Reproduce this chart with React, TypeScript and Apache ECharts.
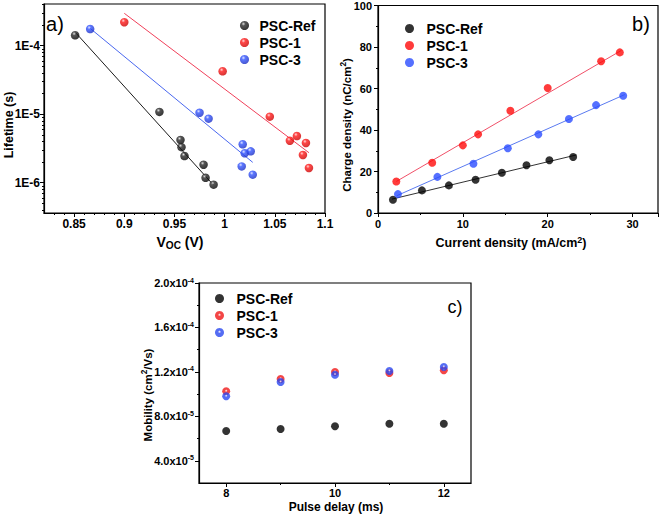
import React, { useEffect, useRef } from 'react';
import * as echarts from 'echarts';

const FONT = "'Liberation Sans', Arial, Helvetica, sans-serif";

// ---------- Panel a: lifetime vs Voc ----------
const aRefVoc = [0.851, 0.935, 0.956, 0.957, 0.96, 0.979, 0.981, 0.989];
const aRefTau = [1.42e-4, 1.08e-5, 4.2e-6, 3.3e-6, 2.45e-6, 1.83e-6, 1.18e-6, 9.35e-7];
const a1Voc = [0.9, 0.998, 1.045, 1.065, 1.072, 1.081, 1.078, 1.084];
const a1Tau = [2.2e-4, 4.23e-5, 9.2e-6, 4.1e-6, 4.8e-6, 3.8e-6, 2.54e-6, 1.64e-6];
const a3Voc = [0.866, 0.975, 0.984, 1.018, 1.02, 1.026, 1.017, 1.028];
const a3Tau = [1.75e-4, 1.05e-5, 8.6e-6, 3.64e-6, 2.69e-6, 2.87e-6, 1.73e-6, 1.31e-6];
const aRefFitVoc = [0.852, 0.989];
const aRefFitTau = [1.52e-4, 9.2e-7];
const a1FitVoc = [0.9, 1.084];
const a1FitTau = [2.97e-4, 2.74e-6];
const a3FitVoc = [0.866, 1.028];
const a3FitTau = [1.79e-4, 1.98e-6];
const aXTicks = [0.85, 0.9, 0.95, 1, 1.05, 1.1];

// ---------- Panel b: charge density vs current density ----------
const bRefJ = [1.76, 5.18, 8.35, 11.5, 14.6, 17.5, 20.2, 23.0];
const bRefQ = [6.4, 10.9, 13.3, 16.0, 19.4, 23.0, 25.4, 27.0];
const b1J = [2.16, 6.39, 10.0, 11.8, 15.6, 20.0, 26.3, 28.5];
const b1Q = [15.2, 24.2, 32.6, 37.9, 49.3, 60.2, 73.1, 77.4];
const b3J = [2.35, 7.0, 11.25, 15.3, 18.9, 22.5, 25.7, 28.9];
const b3Q = [9.1, 17.4, 23.7, 31.2, 37.9, 45.3, 52.0, 56.5];
const bRefFitJ = [1.65, 23.4];
const bRefFitQ = [6.7, 28.0];
const b1FitJ = [2.16, 28.7];
const b1FitQ = [15.2, 78.4];
const b3FitJ = [2.2, 29.1];
const b3FitQ = [8.3, 57.1];

// ---------- Panel c: mobility vs pulse delay ----------
const cDelay = [8, 9, 10, 11, 12];
const cRef = [6.68e-5, 6.86e-5, 7.1e-5, 7.34e-5, 7.34e-5];
const c1 = [1.025e-4, 1.136e-4, 1.199e-4, 1.19e-4, 1.214e-4];
const c3 = [9.8e-5, 1.109e-4, 1.175e-4, 1.208e-4, 1.244e-4];
const cXLabels = [8, 10, 12];
const cXMinor = [9, 11];
const cYLabels = [4e-5, 8e-5, 1.2e-4, 1.6e-4, 2e-4];
const cYMinor = [6e-5, 1.0e-4, 1.4e-4, 1.8e-4];

const NAMES = ['PSC-Ref', 'PSC-1', 'PSC-3'];

const zip = (xs: number[], ys: number[]) => xs.map((x, i) => [x, ys[i]]);

const aXMinor: number[] = [];
for (let i = 83; i <= 109; i++) if (i % 5 !== 0) aXMinor.push(i / 100);
const aYMinor: number[] = [];
for (let d = -7; d <= -4; d++) for (let k = 2; k <= 9; k++) {
  const v = k * Math.pow(10, d);
  if (v > 3.61e-7 && v < 4.06e-4) aYMinor.push(v);
}

const sphere = (light: string, base: string, dark: string) => ({
  type: 'radial', x: 0.38, y: 0.32, r: 0.72,
  colorStops: [
    { offset: 0, color: light },
    { offset: 0.3, color: base },
    { offset: 1, color: dark },
  ],
});
const gloss = (base: string) => ({
  type: 'radial', x: 0.5, y: 0.42, r: 0.6,
  colorStops: [
    { offset: 0, color: '#ffffff' },
    { offset: 0.3, color: base },
    { offset: 1, color: base },
  ],
});

const aColors = [
  sphere('#d8d8d8', '#2a2a2a', '#000000'),
  sphere('#ffd0d0', '#ff1a1a', '#c80000'),
  sphere('#d8dcff', '#3355ff', '#1a2cc0'),
];
const bColors = ['#000000', '#ff0a0a', '#2a4cff'];
const cColors = ['#000000', gloss('#f01818'), gloss('#2a48f0')];
const aLine = ['#1a1a1a', '#f0405a', '#4a68f0'];
const bLine = ['#333333', '#f05068', '#5a7af0'];

const axisLine = { show: true, lineStyle: { color: '#000', width: 1.2 } };
const tickStyle = { lineStyle: { color: '#000', width: 1 } };
const labelBase = { color: '#000', fontFamily: FONT, fontWeight: 'bold' as const };

const legendFor = (left: number, top: number, itemWidth: number, colors: any[]) => ({
  orient: 'vertical',
  left, top,
  itemWidth, itemHeight: 9,
  itemGap: 2,
  selectedMode: false,
  textStyle: { fontFamily: FONT, fontSize: 14, fontWeight: 'bold', color: '#000', lineHeight: 15 },
  data: NAMES.map((n, i) => ({ name: n, icon: 'circle', itemStyle: { color: colors[i], borderWidth: 0 } })),
});

const titleText = (text: string, x: number, y: number, fontSize: number, rotate = false, rich?: any, weight = 'bold') => ({
  type: 'text',
  x, y,
  rotation: rotate ? Math.PI / 2 : 0,
  silent: true,
  style: {
    text,
    fontFamily: FONT,
    fontSize,
    fontWeight: weight,
    fill: '#000',
    align: 'center',
    verticalAlign: 'middle',
    textAlign: 'center',
    textVerticalAlign: 'middle',
    rich,
  },
});

const subRich = (size: number) => ({
  b: { fontFamily: FONT, fontSize: size, fontWeight: 'bold', fill: '#000', color: '#000' },
  sub: { fontFamily: FONT, fontSize: size * 0.72, fontWeight: 'bold', color: '#000', padding: [size * 0.5, 0, 0, 0] },
  sup: { fontFamily: FONT, fontSize: size * 0.72, fontWeight: 'bold', color: '#000', padding: [0, 0, size * 0.55, 0] },
});

const option: any = {
  animation: false,
  backgroundColor: '#ffffff',
  textStyle: { fontFamily: FONT },
  grid: [
    { left: 44, top: 4, width: 281, height: 209, show: true, borderColor: '#000', borderWidth: 1.2, backgroundColor: 'transparent' },
    { left: 378, top: 5, width: 280, height: 208, show: true, borderColor: '#000', borderWidth: 1.2, backgroundColor: 'transparent' },
    { left: 199, top: 283, width: 272, height: 200, show: true, borderColor: '#000', borderWidth: 1.2, backgroundColor: 'transparent' },
  ],
  xAxis: [
    {
      type: 'value', gridIndex: 0, min: 0.82, max: 1.1, position: 'bottom',
      axisLine,
      axisTick: { ...tickStyle, length: 4, customValues: aXTicks },
      axisLabel: { ...labelBase, fontSize: 12, margin: 5, customValues: aXTicks },
      splitLine: { show: false },
    },
    {
      type: 'value', gridIndex: 0, min: 0.82, max: 1.1, position: 'bottom',
      axisLine: { show: false },
      axisTick: { ...tickStyle, length: 2, customValues: aXMinor },
      axisLabel: { show: false },
      splitLine: { show: false },
    },
    {
      type: 'value', gridIndex: 1, min: 0, max: 33, interval: 10, position: 'bottom',
      axisLine,
      axisTick: { ...tickStyle, length: 4 },
      minorTick: { show: true, splitNumber: 2, length: 2, lineStyle: { color: '#000' } },
      axisLabel: { ...labelBase, fontSize: 11, margin: 5, showMaxLabel: false },
      splitLine: { show: false },
      minorSplitLine: { show: false },
    },
    {
      type: 'value', gridIndex: 2, min: 7.5, max: 12.5, position: 'bottom',
      axisLine,
      axisTick: { ...tickStyle, length: 4, customValues: cXLabels },
      axisLabel: { ...labelBase, fontSize: 11, margin: 4, customValues: cXLabels },
      splitLine: { show: false },
    },
    {
      type: 'value', gridIndex: 2, min: 7.5, max: 12.5, position: 'bottom',
      axisLine: { show: false },
      axisTick: { ...tickStyle, length: 2, customValues: cXMinor },
      axisLabel: { show: false },
      splitLine: { show: false },
    },
  ],
  yAxis: [
    {
      type: 'log', logBase: 10, gridIndex: 0, min: 3.61e-7, max: 4.06e-4, position: 'left',
      axisLine,
      axisTick: { ...tickStyle, length: 4 },
      axisLabel: {
        ...labelBase, fontSize: 12, margin: 4, showMinLabel: false, showMaxLabel: false,
        formatter: (v: number) => '1E' + Math.round(Math.log10(v)),
      },
      splitLine: { show: false },
    },
    {
      type: 'log', logBase: 10, gridIndex: 0, min: 3.61e-7, max: 4.06e-4, position: 'left',
      axisLine: { show: false },
      axisTick: { ...tickStyle, length: 2, customValues: aYMinor },
      axisLabel: { show: false },
      splitLine: { show: false },
    },
    {
      type: 'value', gridIndex: 1, min: 0, max: 100, interval: 20, position: 'left',
      axisLine,
      axisTick: { ...tickStyle, length: 4 },
      minorTick: { show: true, splitNumber: 2, length: 2, lineStyle: { color: '#000' } },
      axisLabel: { ...labelBase, fontSize: 11, margin: 6 },
      splitLine: { show: false },
      minorSplitLine: { show: false },
    },
    {
      type: 'value', gridIndex: 2, min: 2e-5, max: 2e-4, position: 'left',
      axisLine,
      axisTick: { ...tickStyle, length: 4, customValues: cYLabels },
      axisLabel: {
        ...labelBase, fontSize: 11, margin: 5, customValues: cYLabels,
        formatter: (v: number) => {
          const e = Math.floor(Math.log10(v) + 1e-9);
          const m = v / Math.pow(10, e);
          return m.toFixed(1) + 'x10{sup|' + e + '}';
        },
        rich: {
          sup: { fontFamily: FONT, fontWeight: 'bold', fontSize: 7, color: '#000', padding: [0, 0, 6, 0] },
        },
      },
      splitLine: { show: false },
    },
    {
      type: 'value', gridIndex: 2, min: 2e-5, max: 2e-4, position: 'left',
      axisLine: { show: false },
      axisTick: { ...tickStyle, length: 2, customValues: cYMinor },
      axisLabel: { show: false },
      splitLine: { show: false },
    },
  ],
  legend: [
    legendFor(235, 13, 20, aColors),
    legendFor(400, 16, 24, bColors),
    legendFor(210, 286, 24, cColors),
  ],
  graphic: [
    titleText('Lifetime (s)', 9, 125, 12.5, true),
    titleText('{b|V}{sub|OC}{b| (V)}', 180, 242, 14, false, subRich(14)),
    titleText('{b|Charge density (nC/cm}{sup|2}{b|)}', 347, 125, 11.5, true, subRich(11.5)),
    titleText('{b|Current density (mA/cm}{sup|2}{b|)}', 511, 243, 12.5, false, subRich(12.5)),
    titleText('{b|Mobility (cm}{sup|2}{b|/Vs)}', 148, 395, 11.5, true, subRich(11.5)),
    titleText('Pulse delay (ms)', 336, 506.5, 12),
    titleText('a)', 55, 23.5, 20, false, undefined, 'normal'),
    titleText('b)', 641, 23.5, 20, false, undefined, 'normal'),
    titleText('c)', 455, 307, 18, false, undefined, 'normal'),
  ],
  series: [
    // panel a fits
    { type: 'line', name: 'fitA0', xAxisIndex: 0, yAxisIndex: 0, data: zip(aRefFitVoc, aRefFitTau), symbol: 'none', lineStyle: { color: aLine[0], width: 1 }, z: 1, silent: true },
    { type: 'line', name: 'fitA1', xAxisIndex: 0, yAxisIndex: 0, data: zip(a1FitVoc, a1FitTau), symbol: 'none', lineStyle: { color: aLine[1], width: 1 }, z: 1, silent: true },
    { type: 'line', name: 'fitA3', xAxisIndex: 0, yAxisIndex: 0, data: zip(a3FitVoc, a3FitTau), symbol: 'none', lineStyle: { color: aLine[2], width: 1 }, z: 1, silent: true },
    // panel a points
    { type: 'scatter', name: NAMES[0], xAxisIndex: 0, yAxisIndex: 0, data: zip(aRefVoc, aRefTau), symbolSize: 8.5, itemStyle: { color: aColors[0] }, z: 3 },
    { type: 'scatter', name: NAMES[1], xAxisIndex: 0, yAxisIndex: 0, data: zip(a1Voc, a1Tau), symbolSize: 8.5, itemStyle: { color: aColors[1] }, z: 3 },
    { type: 'scatter', name: NAMES[2], xAxisIndex: 0, yAxisIndex: 0, data: zip(a3Voc, a3Tau), symbolSize: 8.5, itemStyle: { color: aColors[2] }, z: 3 },
    // panel b fits
    { type: 'line', name: 'fitB0', xAxisIndex: 2, yAxisIndex: 2, data: zip(bRefFitJ, bRefFitQ), symbol: 'none', lineStyle: { color: bLine[0], width: 1 }, z: 1, silent: true },
    { type: 'line', name: 'fitB1', xAxisIndex: 2, yAxisIndex: 2, data: zip(b1FitJ, b1FitQ), symbol: 'none', lineStyle: { color: bLine[1], width: 1 }, z: 1, silent: true },
    { type: 'line', name: 'fitB3', xAxisIndex: 2, yAxisIndex: 2, data: zip(b3FitJ, b3FitQ), symbol: 'none', lineStyle: { color: bLine[2], width: 1 }, z: 1, silent: true },
    // panel b points
    { type: 'scatter', name: NAMES[0], xAxisIndex: 2, yAxisIndex: 2, data: zip(bRefJ, bRefQ), symbolSize: 8, itemStyle: { color: bColors[0] }, z: 3 },
    { type: 'scatter', name: NAMES[1], xAxisIndex: 2, yAxisIndex: 2, data: zip(b1J, b1Q), symbolSize: 8, itemStyle: { color: bColors[1] }, z: 3 },
    { type: 'scatter', name: NAMES[2], xAxisIndex: 2, yAxisIndex: 2, data: zip(b3J, b3Q), symbolSize: 8, itemStyle: { color: bColors[2] }, z: 3 },
    // panel c points
    { type: 'scatter', name: NAMES[0], xAxisIndex: 3, yAxisIndex: 3, data: zip(cDelay, cRef), symbolSize: 8, itemStyle: { color: cColors[0] }, z: 3 },
    { type: 'scatter', name: NAMES[1], xAxisIndex: 3, yAxisIndex: 3, data: zip(cDelay, c1), symbolSize: 8, itemStyle: { color: cColors[1] }, z: 3 },
    { type: 'scatter', name: NAMES[2], xAxisIndex: 3, yAxisIndex: 3, data: zip(cDelay, c3), symbolSize: 8, itemStyle: { color: cColors[2] }, z: 4 },
  ],
};

export default function App() {
  const ref = useRef<HTMLDivElement>(null);
  useEffect(() => {
    if (!ref.current) return;
    const chart = echarts.init(ref.current, null, { renderer: 'svg' });
    chart.setOption(option);
    return () => chart.dispose();
  }, []);
  return <div ref={ref} style={{ position: 'fixed', left: 0, top: 0, width: 661, height: 514, background: '#fff' }} />;
}
